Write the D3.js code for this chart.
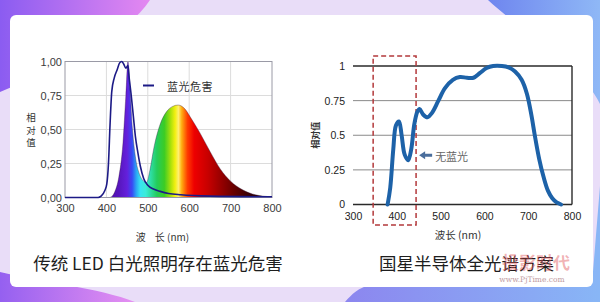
<!DOCTYPE html>
<html lang="zh">
<head>
<meta charset="UTF-8">
<title>蓝光危害 vs 全光谱</title>
<script src="https://d3js.org/d3.v7.min.js"></script>
<style>
  body { margin: 0; background: #fff; }
  svg { display: block; }
</style>
</head>
<body>
<svg></svg>
<script>
// ---- data ----
const xTicks = [300, 400, 500, 600, 700, 800];

// left chart: traditional white LED spectrum + blue-hazard curve
const ledWl  = [408, 414, 420, 430, 440, 447, 452, 457, 463, 470, 480, 490, 497, 505, 515, 530, 545, 560, 573, 590, 605, 625, 650, 675, 700, 730, 760, 800];
const ledVal = [0, 0.01, 0.04, 0.15, 0.4, 0.75, 1.0, 0.8, 0.5, 0.3, 0.17, 0.12, 0.11, 0.2, 0.37, 0.54, 0.63, 0.67, 0.68, 0.65, 0.58, 0.48, 0.34, 0.21, 0.12, 0.055, 0.02, 0.005];
const hazardWl  = [300, 380, 387, 396, 401, 405, 409, 413, 419, 426, 432, 437, 442, 447, 452, 455, 460, 465, 470, 476, 482, 490, 500, 515, 530, 550, 580, 650, 800];
const hazardVal = [0, 0, 0.01, 0.05, 0.1, 0.25, 0.55, 0.78, 0.88, 0.94, 0.99, 1.0, 0.98, 0.95, 0.97, 0.88, 0.75, 0.6, 0.45, 0.33, 0.23, 0.14, 0.09, 0.06, 0.045, 0.03, 0.02, 0.01, 0.005];
const leftYTicks  = [0, 0.25, 0.5, 0.75, 1];
const leftYLabels = ['0,00', '0,25', '0,50', '0,75', '1,00'];

// right chart: full-spectrum LED
const fullWl  = [379, 385, 392, 398, 405, 411, 418, 426, 433, 440, 447, 452, 460, 470, 480, 495, 510, 528, 544, 560, 575, 590, 605, 620, 640, 655, 670, 685, 697, 707, 715, 725, 735, 745, 755, 765, 775];
const fullVal = [0, 0.12, 0.4, 0.57, 0.6, 0.5, 0.36, 0.32, 0.4, 0.58, 0.67, 0.69, 0.65, 0.63, 0.66, 0.75, 0.84, 0.9, 0.92, 0.915, 0.915, 0.95, 0.985, 1.0, 1.0, 0.99, 0.96, 0.9, 0.8, 0.65, 0.5, 0.33, 0.2, 0.1, 0.045, 0.015, 0];
const rightYTicks  = [0, 0.25, 0.5, 0.75, 1];
const rightYLabels = ['0', '0.25', '0.5', '0.75', '1'];

// "no blue light" band and arrow annotation (in data units)
const bandWl  = [346, 444];
const bandVal = [-0.148, 1.072];
const arrowWl = 451, arrowVal = 0.355;

const captions = ['传统 LED 白光照明存在蓝光危害', '国星半导体全光谱方案'];

// ---- setup ----
const W = 600, H = 302;
const CJK = "'Noto Sans CJK SC', 'Noto Sans', sans-serif";
const NUM = "'Liberation Sans', Arial, sans-serif";

const svg = d3.select('svg').attr('width', W).attr('height', H);
const defs = svg.append('defs');

function hGrad(id, x1, x2, stops) {
    const g = defs.append('linearGradient').attr('id', id)
        .attr('gradientUnits', 'userSpaceOnUse')
        .attr('x1', x1).attr('x2', x2).attr('y1', 0).attr('y2', 0);
    stops.forEach(s => g.append('stop').attr('offset', s[0]).attr('stop-color', s[1]));
}

// background
hGrad('bgTL', 0, 150, [[0, '#8b5cf1'], [1, '#e488f1']]);
hGrad('bgTR', 490, 600, [[0, '#6f86ef'], [1, '#8fb8f6']]);
hGrad('bgBL', 0, 135, [[0, '#9560f0'], [1, '#e690f1']]);
hGrad('bgBR', 345, 600, [[0, '#8c86ef'], [1, '#88b6f6']]);

svg.append('rect').attr('width', W).attr('height', H).attr('fill', '#e9ddf8');
svg.append('path').attr('d', 'M0,0 L150,0 C128,34 70,62 0,92 Z').attr('fill', 'url(#bgTL)');
svg.append('path').attr('d', 'M488,0 L600,0 L600,104 C585,70 520,30 488,0 Z').attr('fill', 'url(#bgTR)');
svg.append('path').attr('d', 'M0,302 L0,272 C40,282 100,288 135,302 Z').attr('fill', 'url(#bgBL)');
svg.append('path').attr('d', 'M345,302 C352,294 358,288 372,284 L592,284 L600,186 L600,302 Z').attr('fill', 'url(#bgBR)');

// white card
svg.append('rect').attr('x', 10).attr('y', 15).attr('width', 583).attr('height', 272)
    .attr('rx', 6).attr('fill', '#ffffff');

// ================= left chart =================
const xL = d3.scaleLinear().domain([300, 800]).range([65, 272]);
const yL = d3.scaleLinear().domain([0, 1]).range([197.5, 61.5]);
const gL = svg.append('g');

// grid
gL.append('g').selectAll('line').data(xTicks.slice(1, -1)).join('line')
    .attr('x1', d => xL(d)).attr('x2', d => xL(d))
    .attr('y1', yL(0)).attr('y2', yL(1))
    .attr('stroke', '#dcdcdc').attr('stroke-width', 1);
gL.append('g').selectAll('line').data(leftYTicks.slice(1, -1)).join('line')
    .attr('x1', xL(300)).attr('x2', xL(800))
    .attr('y1', d => yL(d)).attr('y2', d => yL(d))
    .attr('stroke', '#dcdcdc').attr('stroke-width', 1);

// spectrum fill coloured by wavelength
const spectrum = [
    [380, '#4a0c9c'], [430, '#5716bd'], [450, '#6420dc'], [462, '#3848f4'],
    [472, '#2aa4f4'], [482, '#38e4f2'], [495, '#3cecd8'], [508, '#2edca0'],
    [522, '#24cc5c'], [540, '#3ccc24'], [555, '#a8e00c'], [566, '#f2f010'],
    [574, '#fff070'], [582, '#ffac10'], [596, '#ff3a00'], [612, '#ee0000'],
    [645, '#c80000'], [675, '#9a0000'], [705, '#6c0000'], [740, '#3e0004'],
    [775, '#220010'], [800, '#140020']
];
hGrad('spec', xL(380), xL(800), spectrum.map(s => [(s[0] - 380) / 420, s[1]]));

const ledData = ledWl.map((w, i) => [w, ledVal[i]]);
gL.append('path')
    .datum(ledData)
    .attr('d', d3.area().x(d => xL(d[0])).y0(yL(0)).y1(d => yL(d[1])).curve(d3.curveMonotoneX))
    .attr('fill', 'url(#spec)')
    .attr('stroke', '#3a1a40').attr('stroke-width', 0.6).attr('stroke-opacity', 0.6);

// frame
gL.append('rect').attr('x', xL(300)).attr('y', yL(1))
    .attr('width', xL(800) - xL(300)).attr('height', yL(0) - yL(1))
    .attr('fill', 'none').attr('stroke', '#9a9aa6').attr('stroke-width', 1);

// blue hazard curve
const hazData = hazardWl.map((w, i) => [w, hazardVal[i]]);
gL.append('path')
    .datum(hazData)
    .attr('d', d3.line().x(d => xL(d[0])).y(d => yL(d[1])).curve(d3.curveMonotoneX))
    .attr('fill', 'none').attr('stroke', '#1c1a86').attr('stroke-width', 1.6);

// axes
const axL = gL.append('g').attr('transform', `translate(0,${yL(0)})`)
    .call(d3.axisBottom(xL).tickValues(xTicks).tickSize(0).tickPadding(7).tickFormat(d3.format('d')));
const ayL = gL.append('g').attr('transform', `translate(${xL(300)},0)`)
    .call(d3.axisLeft(yL).tickValues(leftYTicks).tickSize(0).tickPadding(3)
        .tickFormat((d, i) => leftYLabels[i]));
[axL, ayL].forEach(a => {
    a.select('.domain').remove();
    a.selectAll('text').attr('font-family', NUM).attr('font-size', 11).attr('fill', '#3a3a3a');
});

// axis titles (vertical stack of characters)
gL.append('g').selectAll('text').data(['相', '对', '值']).join('text')
    .attr('x', 31).attr('y', (d, i) => yL(0.5) + (i - 1) * 12.5)
    .attr('text-anchor', 'middle').attr('dominant-baseline', 'central')
    .attr('font-family', CJK).attr('font-size', 9.5).attr('fill', '#333')
    .text(d => d);
gL.append('text')
    .attr('x', (xL(300) + xL(800)) / 2 - 6).attr('y', 236)
    .attr('text-anchor', 'middle').attr('dominant-baseline', 'central')
    .attr('font-family', CJK).attr('font-size', 10).attr('fill', '#333')
    .style('white-space', 'pre')
    .text('波    长 (nm)');

// legend
gL.append('line').attr('x1', 143).attr('x2', 154).attr('y1', 85.5).attr('y2', 85.5)
    .attr('stroke', '#1c1a86').attr('stroke-width', 2);
gL.append('text').attr('x', 167).attr('y', 85.5)
    .attr('dominant-baseline', 'central')
    .attr('font-family', CJK).attr('font-size', 11).attr('fill', '#333')
    .style('letter-spacing', '0.5px')
    .text('蓝光危害');

// ================= right chart =================
const xR = d3.scaleLinear().domain([300, 800]).range([353, 572]);
const yR = d3.scaleLinear().domain([0, 1]).range([204.5, 66]);
const gR = svg.append('g');

gR.append('g').selectAll('line').data(rightYTicks).join('line')
    .attr('x1', xR(300)).attr('x2', xR(800))
    .attr('y1', d => yR(d)).attr('y2', d => yR(d))
    .attr('stroke', d => (d === 0 || d === 1) ? '#2a2a2a' : '#8a8a8a')
    .attr('stroke-width', d => (d === 0 || d === 1) ? 1.4 : 1);
gR.append('line')
    .attr('x1', xR(800)).attr('x2', xR(800)).attr('y1', yR(0)).attr('y2', yR(1))
    .attr('stroke', '#2a2a2a').attr('stroke-width', 1.4);

// dashed "no blue" band
gR.append('rect')
    .attr('x', xR(bandWl[0])).attr('y', yR(bandVal[1]))
    .attr('width', xR(bandWl[1]) - xR(bandWl[0])).attr('height', yR(bandVal[0]) - yR(bandVal[1]))
    .attr('fill', 'none').attr('stroke', '#b3393b').attr('stroke-width', 1.5)
    .attr('stroke-dasharray', '5,3');

const fullData = fullWl.map((w, i) => [w, fullVal[i]]);
gR.append('path')
    .datum(fullData)
    .attr('d', d3.line().x(d => xR(d[0])).y(d => yR(d[1])).curve(d3.curveCatmullRom.alpha(0.5)))
    .attr('fill', 'none').attr('stroke', '#1d62a8').attr('stroke-width', 4)
    .attr('stroke-linecap', 'round').attr('stroke-linejoin', 'round');

const axR = gR.append('g').attr('transform', `translate(0,${yR(0)})`)
    .call(d3.axisBottom(xR).tickValues(xTicks).tickSize(0).tickPadding(8).tickFormat(d3.format('d')));
const ayR = gR.append('g').attr('transform', `translate(${xR(300)},0)`)
    .call(d3.axisLeft(yR).tickValues(rightYTicks).tickSize(0).tickPadding(8)
        .tickFormat((d, i) => rightYLabels[i]));
[axR, ayR].forEach(a => {
    a.select('.domain').remove();
    a.selectAll('text').attr('font-family', NUM).attr('font-size', 10.5).attr('fill', '#222');
});

// arrow + label
const ax0 = xR(arrowWl), ay0 = yR(arrowVal);
gR.append('path')
    .attr('d', `M${ax0},${ay0} l6,-4 v2.5 h7 v3 h-7 v2.5 Z`)
    .attr('fill', '#4a6e9c');
gR.append('text').attr('x', ax0 + 16).attr('y', ay0 + 1)
    .attr('dominant-baseline', 'central')
    .attr('font-family', CJK).attr('font-size', 11).attr('fill', '#666')
    .text('无蓝光');

// titles
gR.append('text')
    .attr('transform', `translate(315,${yR(0.5)}) rotate(-90)`)
    .attr('text-anchor', 'middle').attr('dominant-baseline', 'central')
    .attr('font-family', CJK).attr('font-size', 9).attr('font-weight', 'bold').attr('fill', '#333')
    .text('相对值');
gR.append('text')
    .attr('x', 458).attr('y', 234)
    .attr('text-anchor', 'middle').attr('dominant-baseline', 'central')
    .attr('font-family', CJK).attr('font-size', 10.5).attr('fill', '#333')
    .text('波长 (nm)');

// ================= captions =================
svg.append('g').selectAll('text').data(captions).join('text')
    .attr('x', (d, i) => i === 0 ? 158 : 466.5).attr('y', 262)
    .attr('text-anchor', 'middle').attr('dominant-baseline', 'central')
    .attr('font-family', CJK).attr('font-size', 17.5).attr('fill', '#1e1e1e')
    .text(d => d);

// watermark (sits over the caption, as in the source image)
svg.append('text').attr('x', 536).attr('y', 261)
    .attr('text-anchor', 'middle').attr('dominant-baseline', 'central')
    .attr('font-family', CJK).attr('font-size', 17).attr('font-weight', 'bold')
    .attr('fill', '#e0545a').attr('fill-opacity', 0.45)
    .text('投影时代');
svg.append('text').attr('x', 532).attr('y', 279)
    .attr('text-anchor', 'middle').attr('dominant-baseline', 'central')
    .attr('font-family', "'DejaVu Serif', serif").attr('font-size', 7.5)
    .attr('fill', '#c09aa0')
    .text('www.PjTime.com');
</script>
</body>
</html>
